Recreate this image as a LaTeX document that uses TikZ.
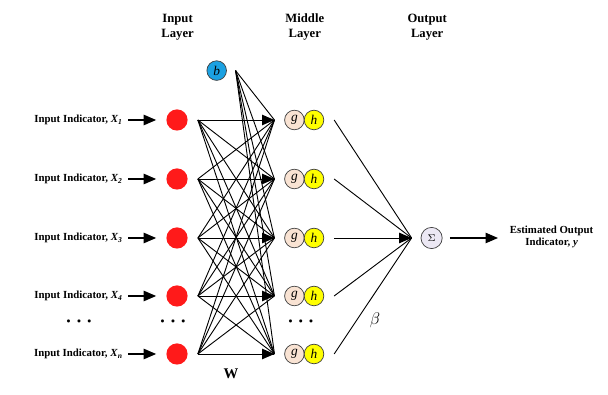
\documentclass[tikz,border=0pt]{standalone}
\usepackage{fontspec}
\setmainfont{Liberation Serif}
\usepackage{amsmath,bm}
\usepackage{tikz}
\usepackage{xcolor}
\usetikzlibrary{arrows.meta}

\definecolor{inred}{HTML}{FF1A1A}
\definecolor{gpeach}{HTML}{F9E3D3}
\definecolor{hyel}{HTML}{FFFF00}
\definecolor{bblue}{HTML}{1BA1E2}
\definecolor{slav}{HTML}{ECE8F4}

\begin{document}
\begin{tikzpicture}[x=1cm,y=1cm,>={Triangle[length=3.1mm,width=2.6mm]},
 lab/.style={font=\fontsize{7.7}{9}\selectfont\bfseries,inner sep=0pt},
 hd/.style={font=\fontsize{9}{10.5}\selectfont\bfseries,align=center},
 inp/.style={circle,fill=inred,minimum size=0.53cm,inner sep=0pt},
 nrn/.style={circle,draw=black!75,line width=0.5pt,minimum size=0.49cm,inner sep=0pt,font=\fontsize{9.5}{10}\selectfont\itshape},
 dts/.style={font=\fontsize{14}{14}\selectfont},
 a/.style={->,line width=0.8pt}, w/.style={line width=0.65pt}]
 \useasboundingbox (0,0) rectangle (15.2,9.875);
 \node[hd] (hin) at (4.44,9.2) {Input\\Layer};
 \node[hd] (hmid) at (7.62,9.2) {Middle\\Layer};
 \node[hd] (hout) at (10.68,9.2) {Output\\Layer};
 \node[lab,anchor=east] (l1) at (3.075,6.875) {Input Indicator, \textit{X}\textsubscript{\textit{1}}};
 \node[lab,anchor=east] (l2) at (3.075,5.4) {Input Indicator, \textit{X}\textsubscript{\textit{2}}};
 \node[lab,anchor=east] (l3) at (3.075,3.925) {Input Indicator, \textit{X}\textsubscript{\textit{3}}};
 \node[lab,anchor=east] (l4) at (3.075,2.475) {Input Indicator, \textit{X}\textsubscript{\textit{4}}};
 \node[lab,anchor=east] (l5) at (3.075,1.025) {Input Indicator, \textit{X}\textsubscript{\textit{n}}};
 \node[inp] (x1) at (4.425,6.875) {};
 \node[inp] (x2) at (4.425,5.4) {};
 \node[inp] (x3) at (4.425,3.925) {};
 \node[inp] (x4) at (4.425,2.475) {};
 \node[inp] (x5) at (4.425,1.025) {};
 \node[nrn,fill=bblue] (bias) at (5.417,8.11) {b};
 \coordinate (bs) at (5.89,8.11);
 \node[nrn,fill=gpeach] (g1) at (7.36,6.875) {g};
 \node[nrn,fill=gpeach] (g2) at (7.36,5.4) {g};
 \node[nrn,fill=gpeach] (g3) at (7.36,3.925) {g};
 \node[nrn,fill=gpeach] (g4) at (7.36,2.475) {g};
 \node[nrn,fill=gpeach] (g5) at (7.36,1.025) {g};
 \node[nrn,fill=hyel] (h1) at (7.85,6.875) {h};
 \node[nrn,fill=hyel] (h2) at (7.85,5.4) {h};
 \node[nrn,fill=hyel] (h3) at (7.85,3.925) {h};
 \node[nrn,fill=hyel] (h4) at (7.85,2.475) {h};
 \node[nrn,fill=hyel] (h5) at (7.85,1.025) {h};
 \node[nrn,fill=slav,minimum size=0.53cm,font=\fontsize{7}{8}\selectfont] (sum) at (10.79,3.925) {$\Sigma$};
 \coordinate (conv) at (10.29,3.925);
 \node[lab,align=center] (out) at (13.79,3.95) {Estimated Output\\Indicator, \textit{y}};
 \node[dts] (d1) at (2.025,1.83) {$\boldsymbol{\cdots}$};
 \node[dts] (d2) at (4.375,1.83) {$\boldsymbol{\cdots}$};
 \node[dts] (d3) at (7.57,1.83) {$\boldsymbol{\cdots}$};
 \node[font=\fontsize{12}{13}\selectfont] (beta) at (9.375,1.875) {$\beta$};
 \node[font=\fontsize{10.5}{12}\selectfont\bfseries] (wt) at (5.775,0.53) {W};
 % input arrows and connection points
 \foreach \i in {1,...,5}{
  \draw[a,shorten <=1.3mm,shorten >=2.5mm] (l\i.east) -- (x\i.west);
  \coordinate (s\i) at ([xshift=2.5mm]x\i.east);
  \coordinate (t\i) at ([xshift=-2.45mm]g\i.west);
  \coordinate (o\i) at ([xshift=2.5mm]h\i.east);
 }
 % weights W
 \foreach \i in {1,...,5}{\foreach \j in {1,...,5}{\draw[w] (s\i) -- (t\j);}}
 \foreach \j in {1,...,5}{
  \draw[w] (bs) -- (t\j);
  \draw[a] ([xshift=-3.2mm]t\j) -- (t\j);
  \draw[w] (o\j) -- (conv);
 }
 \draw[a] ([xshift=-3.2mm]conv) -- (conv);
 \draw[a,shorten <=1.8mm] (sum.east) -- (12.45,3.925);
\end{tikzpicture}
\end{document}
